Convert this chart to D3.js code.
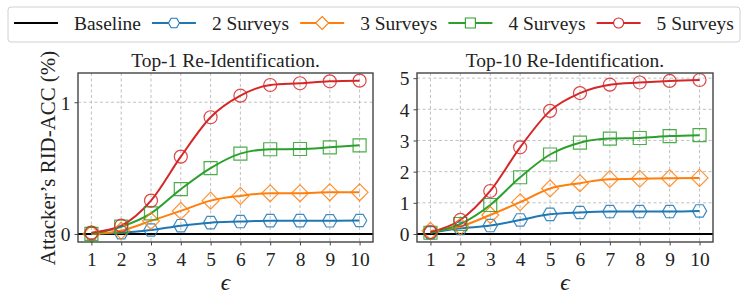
<!DOCTYPE html>
<html>
<head>
  <meta charset="utf-8">
  <title>RID-ACC vs epsilon</title>
  <script src="https://d3js.org/d3.v7.min.js"></script>
  <style>
    body { margin: 0; background: #fff; }
    svg text { font-family: "Liberation Serif", "DejaVu Serif", "Times New Roman", serif; fill: #222; }
  </style>
</head>
<body>
  <svg width="747" height="303"></svg>

  <script>
    // data
    const eps = [1, 2, 3, 4, 5, 6, 7, 8, 9, 10];
    const seriesNames = ["2 Surveys", "3 Surveys", "4 Surveys", "5 Surveys"];
    const colors = ["#1f77b4", "#ff7f0e", "#2ca02c", "#d62728"];
    const markers = ["hexagon", "diamond", "square", "circle"];

    const top1S2 = [0.005, 0.01, 0.03, 0.063, 0.086, 0.094, 0.101, 0.101, 0.100, 0.102];
    const top1S3 = [0.0, 0.025, 0.099, 0.175, 0.253, 0.289, 0.309, 0.309, 0.316, 0.316];
    const top1S4 = [0.0, 0.055, 0.157, 0.34, 0.50, 0.61, 0.643, 0.645, 0.658, 0.673];
    const top1S5 = [0.01, 0.063, 0.253, 0.587, 0.886, 1.05, 1.131, 1.144, 1.159, 1.164];

    const top10S2 = [0.04, 0.18, 0.27, 0.45, 0.63, 0.69, 0.72, 0.72, 0.72, 0.74];
    const top10S3 = [0.10, 0.24, 0.61, 1.02, 1.46, 1.63, 1.76, 1.77, 1.79, 1.80];
    const top10S4 = [0.04, 0.32, 0.93, 1.82, 2.55, 2.93, 3.06, 3.08, 3.14, 3.17];
    const top10S5 = [0.06, 0.45, 1.38, 2.78, 3.95, 4.52, 4.79, 4.86, 4.91, 4.94];

    const top1Ticks = [0, 1];
    const top10Ticks = [0, 1, 2, 3, 4, 5];

    const svg = d3.select("svg");

    // the reference uses Computer Modern; scale whatever serif we get so "Baseline" is ~67px wide
    const probe = svg.append("text").attr("font-size", 20).text("Baseline");
    const fs = 67 / probe.node().getComputedTextLength();
    probe.remove();

    function markerPath(kind, s) {
      if (kind === "circle") {
        const p = d3.path();
        p.arc(0, 0, s, 0, 2 * Math.PI);
        p.closePath();
        return p.toString();
      }
      if (kind === "square") return `M${-s},${-s}H${s}V${s}H${-s}Z`;
      if (kind === "diamond") { const d = s * 1.3; return `M0,${-d}L${d},0L0,${d}L${-d},0Z`; }
      // flat-top hexagon
      const r = s * 1.1;
      let p = "";
      for (let i = 0; i < 6; i++) {
        const a = Math.PI / 3 * i;
        p += (i ? "L" : "M") + (r * Math.cos(a)).toFixed(2) + "," + (r * Math.sin(a)).toFixed(2);
      }
      return p + "Z";
    }

    function panel(opts) {
      const { left, right, top, bottom, yDomain, yTicks, title, data } = opts;
      const x = d3.scaleLinear().domain([0.55, 10.45]).range([left, right]);
      const y = d3.scaleLinear().domain(yDomain).range([bottom, top]);
      const g = svg.append("g");

      // grid
      g.append("g").selectAll("line").data(eps).join("line")
        .attr("x1", d => x(d)).attr("x2", d => x(d))
        .attr("y1", top).attr("y2", bottom)
        .attr("stroke", "#b0b0b0").attr("stroke-width", 0.8).attr("stroke-dasharray", "3,2.5");
      g.append("g").selectAll("line").data(yTicks).join("line")
        .attr("x1", left).attr("x2", right)
        .attr("y1", d => y(d)).attr("y2", d => y(d))
        .attr("stroke", "#b0b0b0").attr("stroke-width", 0.8).attr("stroke-dasharray", "3,2.5");

      // axes
      const xAxis = d3.axisBottom(x).tickValues(eps).tickSize(3.5).tickPadding(4).tickFormat(d3.format("d"));
      const yAxis = d3.axisLeft(y).tickValues(yTicks).tickSize(3.5).tickPadding(4).tickFormat(d3.format("d"));
      const ax = g.append("g").attr("transform", `translate(0,${bottom})`).call(xAxis);
      const ay = g.append("g").attr("transform", `translate(${left},0)`).call(yAxis);
      [ax, ay].forEach(a => {
        a.attr("font-family", null);
        a.select(".domain").remove();
        a.selectAll(".tick line").attr("stroke", "#333").attr("stroke-width", 0.9);
        a.selectAll("text").attr("font-size", 20 * fs).attr("fill", "#222");
      });
      ax.selectAll("text").attr("dy", "0.85em");
      ay.selectAll("text").attr("dy", "0.35em");

      // baseline
      g.append("line").attr("x1", left).attr("x2", right)
        .attr("y1", y(0)).attr("y2", y(0)).attr("stroke", "#000").attr("stroke-width", 2);

      // series
      const line = d3.line().x((d, i) => x(eps[i])).y(d => y(d)).curve(d3.curveMonotoneX);
      data.forEach((vals, k) => {
        g.append("path").attr("d", line(vals)).attr("fill", "none")
          .attr("stroke", colors[k]).attr("stroke-width", 2);
      });
      data.forEach((vals, k) => {
        g.append("g").selectAll("path").data(vals).join("path")
          .attr("transform", (d, i) => `translate(${x(eps[i])},${y(d)})`)
          .attr("d", markerPath(markers[k], 6.5))
          .attr("fill", "none").attr("stroke", colors[k]).attr("stroke-width", 1.2)
          .attr("stroke-opacity", 0.85);
      });

      // frame
      g.append("rect").attr("x", left).attr("y", top)
        .attr("width", right - left).attr("height", bottom - top)
        .attr("fill", "none").attr("stroke", "#444").attr("stroke-width", 1.4);

      // title and x label
      g.append("text").attr("x", (left + right) / 2).attr("y", 67)
        .attr("text-anchor", "middle").attr("font-size", 20 * fs).text(title);
      g.append("text").attr("x", (left + right) / 2).attr("y", 290)
        .attr("text-anchor", "middle").attr("font-size", 24 * fs).attr("font-style", "italic")
        .text("\u03F5");
    }

    panel({ left: 78, right: 373, top: 73, bottom: 242,
      yDomain: [-0.061, 1.222], yTicks: top1Ticks, title: "Top-1 Re-Identification.",
      data: [top1S2, top1S3, top1S4, top1S5] });
    panel({ left: 417, right: 713, top: 73, bottom: 242,
      yDomain: [-0.257, 5.165], yTicks: top10Ticks, title: "Top-10 Re-Identification.",
      data: [top10S2, top10S3, top10S4, top10S5] });

    // y label
    svg.append("text").attr("transform", "translate(55,158) rotate(-90)")
      .attr("text-anchor", "middle").attr("font-size", 21.5 * fs).text("Attacker\u2019s RID-ACC (%)");

    // legend
    const leg = svg.append("g");
    leg.append("rect").attr("x", 8).attr("y", 7).attr("width", 732).attr("height", 35)
      .attr("rx", 3).attr("fill", "#fff").attr("stroke", "#d0d0d0").attr("stroke-width", 1);
    const legItems = [{ name: "Baseline", color: "#000", marker: null }]
      .concat(seriesNames.map((n, i) => ({ name: n, color: colors[i], marker: markers[i] })));
    let cx = 14;
    legItems.forEach(it => {
      const item = leg.append("g");
      item.append("line").attr("x1", cx).attr("x2", cx + 44).attr("y1", 23).attr("y2", 23)
        .attr("stroke", it.color).attr("stroke-width", 2);
      if (it.marker) {
        item.append("path").attr("transform", `translate(${cx + 22},23)`)
          .attr("d", markerPath(it.marker, 5)).attr("fill", "#fff")
          .attr("stroke", it.color).attr("stroke-width", 1.1);
      }
      const t = item.append("text").attr("x", cx + 60).attr("y", 30).attr("font-size", 20 * fs).text(it.name);
      cx += 60 + t.node().getComputedTextLength() + 11;
    });
  </script>
</body>
</html>
